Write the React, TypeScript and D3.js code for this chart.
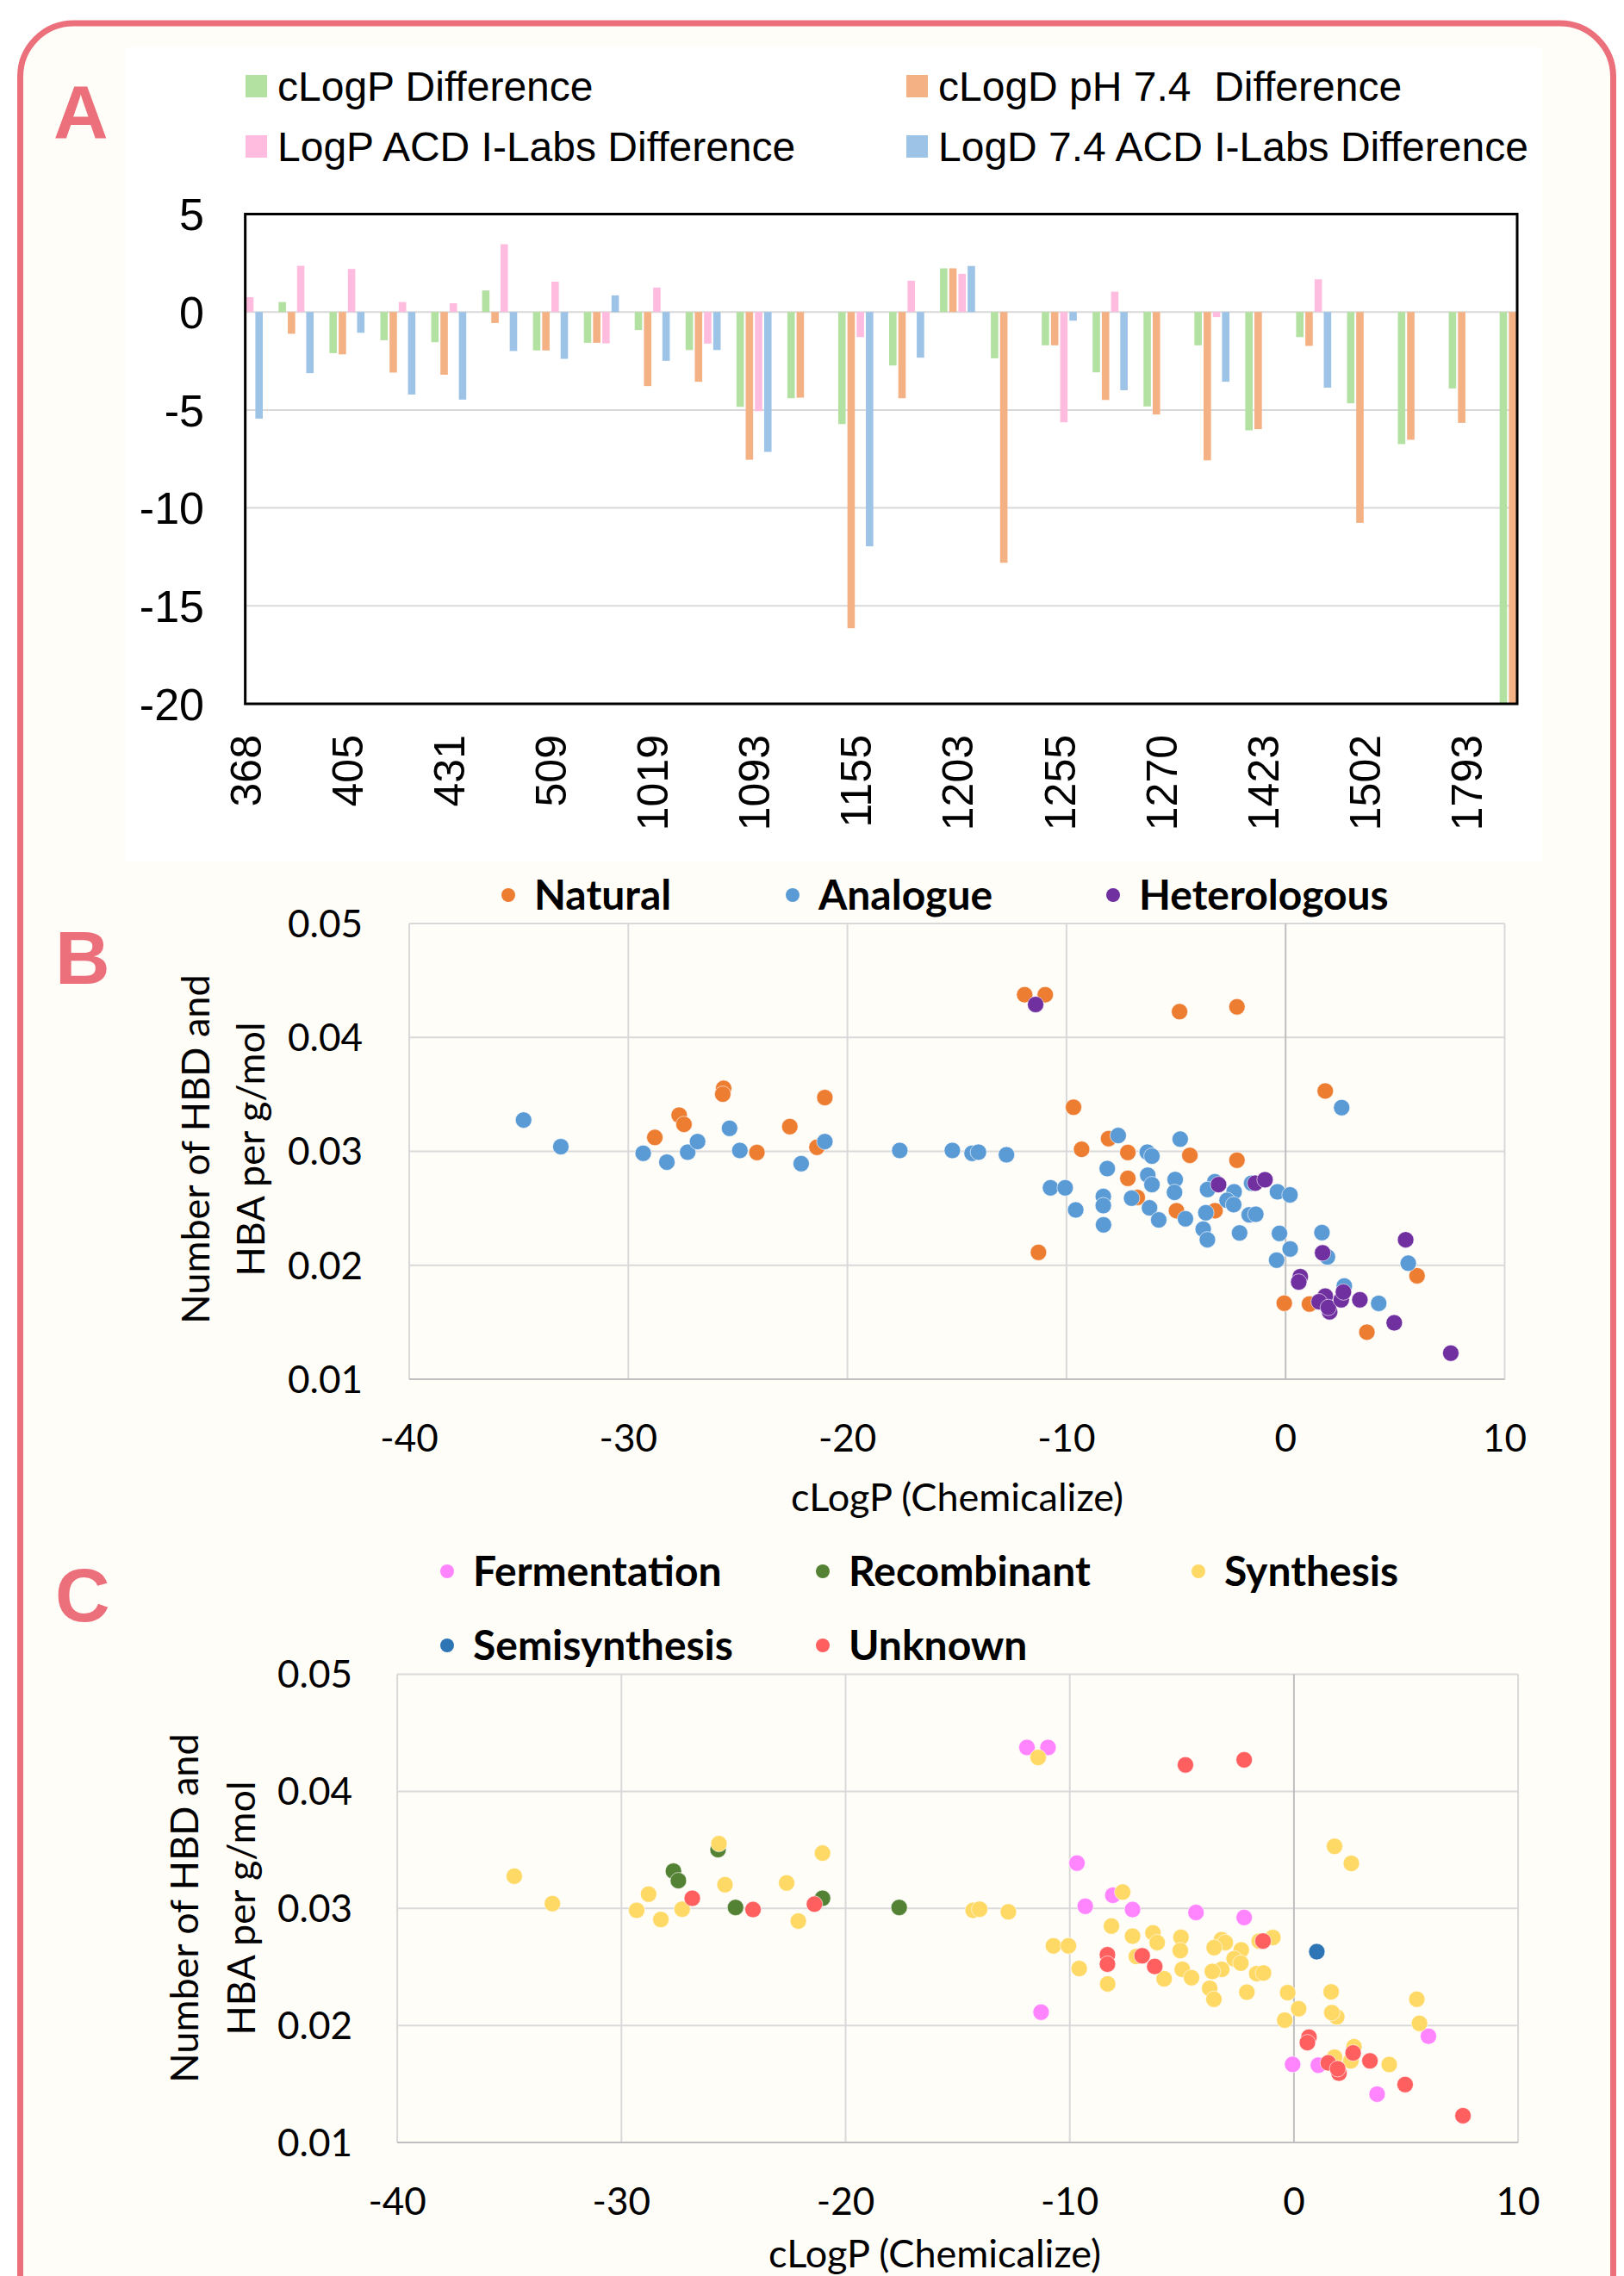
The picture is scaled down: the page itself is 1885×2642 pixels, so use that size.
import React, { useEffect, useRef } from "react";
import * as d3 from "d3";

const W = 1885;
const H = 2642;

// ---------- Panel A data ----------
const categoryTickLabels = ["368", "405", "431", "509", "1019", "1093", "1155", "1203", "1255", "1270", "1423", "1502", "1793"];
const categoryCount = 26;
const cLogPDiff = [-2.5, 0.51, -2.1, -1.44, -1.54, 1.1, -1.96, -1.57, -0.92, -1.94, -4.84, -4.4, -5.72, -2.73, 2.23, -2.36, -1.7, -3.08, -4.82, -1.7, -6.04, -1.28, -4.66, -6.74, -3.9, -21];
const cLogDDiff = [-3.42, -1.11, -2.16, -3.09, -3.2, -0.56, -1.96, -1.57, -3.78, -3.56, -7.54, -4.37, -16.14, -4.4, 2.23, -12.8, -1.7, -4.49, -5.23, -7.57, -5.98, -1.73, -10.76, -6.52, -5.66, -21];
const logPACDDiff = [0.76, 2.36, 2.2, 0.51, 0.45, 3.46, 1.55, -1.6, 1.25, -1.61, -5.06, null, -1.28, 1.6, 1.95, null, -5.63, 1.04, null, -0.26, null, 1.67, null, null, null, null];
const logDACDDiff = [-5.44, -3.12, -1.06, -4.21, -4.47, -1.99, -2.39, 0.85, -2.49, -1.94, -7.14, null, -11.96, -2.33, 2.35, null, -0.44, -3.99, null, -3.56, null, -3.86, null, null, null, null];
const seriesNamesA = ["cLogP Difference", "cLogD pH 7.4  Difference", "LogP ACD I-Labs Difference", "LogD 7.4 ACD I-Labs Difference"];
const seriesColorsA = ["#B3E1A1", "#F4B183", "#FFBCDF", "#9DC3E6"];
const yTicksA = [5, 0, -5, -10, -15, -20];

// ---------- Panels B / C data (shared compounds) ----------
const cLogP = [
  -34.78, -33.08, -29.32, -28.79, -28.24, -27.68, -27.46, -27.29, -26.84, -25.65,
  -25.69, -25.38, -24.91, -24.13, -22.63, -22.11, -21.39, -21.03, -21.03, -17.61,
  -15.21, -14.31, -14.02, -12.74, -11.91, -10.97, -11.41, -11.28, -10.73, -10.06,
  -9.68, -9.58, -9.31, -8.32, -8.32, -8.31, -8.14, -8.08, -7.64, -7.2,
  -7.2, -6.77, -7.03, -6.31, -6.1, -6.29, -6.1, -6.21, -5.79, -4.81,
  -4.37, -5.04, -5.07, -4.98, -4.57, -2.22, -4.84, -2.22, -3.23, -3.06,
  -3.56, -3.22, -3.64, -3.76, -3.57, -2.35, -2.67, -2.37, -2.1, -1.66,
  -1.36, -1.38, -0.94, -1.55, -0.37, 0.2, -0.28, 0.21, -0.41, -0.06,
  1.81, 2.56, 0.67, 0.6, 1.66, 1.91, 1.69, 1.09, 1.81, 1.53,
  2.01, 1.95, 2.54, 2.64, 2.68, 3.39, 4.25, 3.71, 4.96, 5.48,
  5.6, 6.0, 7.54, 1.02
];
const hbdHbaPerMass = [
  0.03275, 0.03041, 0.02983, 0.03122, 0.02905, 0.03318, 0.03237, 0.02993, 0.03086, 0.03553,
  0.03502, 0.03202, 0.03008, 0.0299, 0.03217, 0.02892, 0.03036, 0.03472, 0.03086, 0.03008,
  0.03008, 0.02983, 0.02993, 0.0297, 0.04375, 0.04375, 0.04289, 0.02113, 0.0268, 0.0268,
  0.03387, 0.02486, 0.03018, 0.02604, 0.02524, 0.02355, 0.02849, 0.03112, 0.03139, 0.0299,
  0.02763, 0.02595, 0.02589, 0.02993, 0.02958, 0.02791, 0.02708, 0.02504, 0.02398, 0.03107,
  0.02965, 0.02753, 0.0264, 0.02479, 0.02408, 0.04269, 0.04226, 0.02922, 0.02733, 0.02708,
  0.02665, 0.02479, 0.02461, 0.02317, 0.02224, 0.02645, 0.0257, 0.02532, 0.02284, 0.02443,
  0.02448, 0.02721, 0.02751, 0.0272, 0.02645, 0.02618, 0.0228, 0.02143, 0.02045, 0.01667,
  0.0353, 0.03384, 0.019, 0.01853, 0.02287, 0.02073, 0.02109, 0.0166, 0.01729, 0.0168,
  0.01592, 0.0163, 0.01697, 0.01765, 0.01818, 0.01697, 0.01666, 0.01413, 0.01495, 0.02224,
  0.02018, 0.01908, 0.01229, 0.0263
];
// origin for panel B: N = Natural, A = Analogue, H = Heterologous, "" = not shown
const originCode = [
  "A", "A", "A", "N", "A", "N", "N", "A", "A", "N",
  "N", "A", "A", "N", "N", "A", "N", "N", "A", "A",
  "A", "A", "A", "A", "N", "N", "H", "N", "A", "A",
  "N", "A", "N", "A", "A", "A", "A", "N", "A", "N",
  "N", "N", "A", "A", "A", "A", "A", "A", "A", "A",
  "N", "A", "A", "N", "A", "N", "N", "N", "A", "H",
  "A", "N", "A", "A", "A", "A", "A", "A", "A", "A",
  "A", "H", "H", "A", "A", "A", "A", "A", "A", "N",
  "N", "A", "H", "H", "A", "A", "H", "N", "H", "H",
  "H", "H", "H", "H", "A", "H", "A", "N", "H", "H",
  "A", "N", "H", ""
];
// source for panel C: F Fermentation, R Recombinant, S Synthesis, M Semisynthesis, U Unknown, "" = not shown
const sourceCode = [
  "S", "S", "S", "S", "S", "R", "R", "S", "U", "S",
  "R", "S", "R", "U", "S", "S", "U", "S", "R", "R",
  "", "S", "S", "S", "F", "F", "S", "F", "S", "S",
  "F", "S", "F", "U", "U", "S", "S", "F", "S", "F",
  "S", "U", "S", "", "", "S", "S", "U", "S", "",
  "F", "S", "S", "S", "S", "U", "U", "F", "S", "S",
  "S", "S", "S", "S", "S", "S", "S", "S", "S", "S",
  "S", "U", "S", "S", "", "", "S", "S", "S", "F",
  "S", "S", "U", "U", "S", "S", "S", "F", "S", "U",
  "U", "U", "S", "U", "S", "U", "S", "F", "U", "S",
  "S", "F", "U", "M"
];
const originGroups = [
  { code: "N", name: "Natural", color: "#ED7D31" },
  { code: "A", name: "Analogue", color: "#5B9BD5" },
  { code: "H", name: "Heterologous", color: "#7030A0" },
];
const sourceGroups = [
  { code: "F", name: "Fermentation", color: "#FF85FF" },
  { code: "R", name: "Recombinant", color: "#548235" },
  { code: "S", name: "Synthesis", color: "#FFD966" },
  { code: "M", name: "Semisynthesis", color: "#2E75B6" },
  { code: "U", name: "Unknown", color: "#FF5F5F" },
];
const xTicksBC = [-40, -30, -20, -10, 0, 10];
const yTicksBC = [0.01, 0.02, 0.03, 0.04, 0.05];

const RED = "#EB707B";
const CREAM = "#FFFDF8";

export default function App() {
  const ref = useRef<SVGSVGElement | null>(null);

  useEffect(() => {
    const svg = d3.select(ref.current);
    svg.selectAll("*").remove();

    // outer frame
    svg.append("rect").attr("x", 0).attr("y", 0).attr("width", W).attr("height", H).attr("fill", "#FFFFFF");
    svg.append("rect")
      .attr("x", 23.5).attr("y", 27).attr("width", 1849).attr("height", 2700)
      .attr("rx", 62).attr("ry", 62)
      .attr("fill", CREAM).attr("stroke", RED).attr("stroke-width", 7);

    // ---------------- Panel A ----------------
    const gA = svg.append("g");
    gA.append("rect").attr("x", 145).attr("y", 55).attr("width", 1645).attr("height", 945).attr("fill", "#FFFFFF");

    const left = 284.65, right = 1761, top = 248.5, bottom = 817;
    const xA = d3.scaleLinear().domain([0, categoryCount - 1]).range([left, right]);
    const yA = d3.scaleLinear().domain([-20, 5]).range([bottom, top]);

    gA.append("defs").append("clipPath").attr("id", "clipA")
      .append("rect").attr("x", left).attr("y", top).attr("width", right - left).attr("height", bottom - top);

    // gridlines
    gA.selectAll("line.gridA").data([0, -5, -10, -15]).enter().append("line")
      .attr("x1", left).attr("x2", right)
      .attr("y1", (d) => yA(d)).attr("y2", (d) => yA(d))
      .attr("stroke", "#D9D9D9").attr("stroke-width", 2);

    const series = [cLogPDiff, cLogDDiff, logPACDDiff, logDACDDiff];
    const pitch = 10.7;
    const barW = 8.6;
    const barsG = gA.append("g").attr("clip-path", "url(#clipA)");
    series.forEach((vals, s) => {
      const off = (s - 1.5) * pitch;
      barsG.selectAll(`rect.s${s}`).data(vals.map((v, i) => ({ v, i })).filter((d) => d.v !== null)).enter()
        .append("rect")
        .attr("x", (d) => xA(d.i) + off - barW / 2)
        .attr("width", barW)
        .attr("y", (d) => Math.min(yA(d.v as number), yA(0)))
        .attr("height", (d) => Math.abs(yA(d.v as number) - yA(0)))
        .attr("fill", seriesColorsA[s]);
    });

    gA.append("rect").attr("x", left).attr("y", top).attr("width", right - left).attr("height", bottom - top)
      .attr("fill", "none").attr("stroke", "#000").attr("stroke-width", 3);

    // y tick labels
    gA.selectAll("text.yA").data(yTicksA).enter().append("text")
      .attr("x", 237).attr("y", (d) => yA(d)).attr("dy", "0.36em")
      .attr("text-anchor", "end")
      .attr("font-family", "'Liberation Sans', Arial, sans-serif").attr("font-size", 52)
      .text((d) => String(d));

    // x tick labels (every other category)
    gA.selectAll("text.xA").data(categoryTickLabels).enter().append("text")
      .attr("transform", (d, i) => `translate(${xA(i * 2)},853) rotate(-90)`)
      .attr("dy", "0.36em")
      .attr("text-anchor", "end")
      .attr("font-family", "'Liberation Sans', Arial, sans-serif").attr("font-size", 50)
      .text((d) => d);

    // legend
    const legA = [
      { x: 285, y: 100 }, { x: 1052, y: 100 }, { x: 285, y: 170 }, { x: 1052, y: 170 },
    ];
    seriesNamesA.forEach((name, s) => {
      gA.append("rect").attr("x", legA[s].x).attr("y", legA[s].y - 13).attr("width", 25).attr("height", 26)
        .attr("fill", seriesColorsA[s]);
      gA.append("text").attr("x", legA[s].x + 37).attr("y", legA[s].y).attr("dy", "0.36em")
        .attr("font-family", "'Liberation Sans', Arial, sans-serif").attr("font-size", 48)
        .attr("xml:space", "preserve")
        .style("white-space", "pre")
        .text(name);
    });

    // panel letters
    const letter = (t: string, x: number, y: number) =>
      svg.append("text").attr("x", x).attr("y", y)
        .attr("font-family", "'Liberation Sans', Arial, sans-serif").attr("font-weight", "bold")
        .attr("font-size", 88).attr("fill", RED).text(t);
    letter("A", 62, 160);
    letter("B", 64, 1142);
    letter("C", 64, 1882);

    // ---------------- Scatter panels ----------------
    type ScatterOpts = {
      x0: number; x1: number; y0: number; y1: number;
      codes: string[];
      groups: { code: string; name: string; color: string }[];
      legend: { x: number; y: number }[];
      yLabelX: number; xLabelY: number;
      xTitleX: number; xTitleY: number;
      yTitleX: [number, number]; yTitleY: number;
    };
    const font = "Lato, 'Open Sans', sans-serif";

    const drawScatter = (o: ScatterOpts) => {
      const g = svg.append("g");
      const x = d3.scaleLinear().domain([-40, 10]).range([o.x0, o.x1]);
      const y = d3.scaleLinear().domain([0.01, 0.05]).range([o.y1, o.y0]);
      // gridlines
      g.selectAll("line.gy").data(yTicksBC).enter().append("line")
        .attr("x1", o.x0).attr("x2", o.x1).attr("y1", (d) => y(d)).attr("y2", (d) => y(d))
        .attr("stroke", "#D9D9D9").attr("stroke-width", 2);
      g.selectAll("line.gx").data(xTicksBC).enter().append("line")
        .attr("y1", o.y0).attr("y2", o.y1).attr("x1", (d) => x(d)).attr("x2", (d) => x(d))
        .attr("stroke", (d) => (d === 0 ? "#BFBFBF" : "#D9D9D9")).attr("stroke-width", 2);
      g.append("line").attr("x1", o.x0).attr("x2", o.x1).attr("y1", o.y1).attr("y2", o.y1)
        .attr("stroke", "#BFBFBF").attr("stroke-width", 2);

      // points, series by series
      o.groups.forEach((grp) => {
        const idx = o.codes.map((c, i) => (c === grp.code ? i : -1)).filter((i) => i >= 0);
        g.selectAll(`circle.p${grp.code}`).data(idx).enter().append("circle")
          .attr("cx", (i) => x(cLogP[i])).attr("cy", (i) => y(hbdHbaPerMass[i]))
          .attr("r", 9.5).attr("fill", grp.color)
          .attr("stroke", "#FFFFFF").attr("stroke-opacity", 0.6).attr("stroke-width", 1);
      });

      // tick labels
      g.selectAll("text.ty").data(yTicksBC).enter().append("text")
        .attr("x", o.yLabelX).attr("y", (d) => y(d)).attr("dy", "0.36em").attr("text-anchor", "end")
        .attr("font-family", font).attr("font-size", 44).text((d) => d3.format(".2f")(d));
      g.selectAll("text.tx").data(xTicksBC).enter().append("text")
        .attr("x", (d) => x(d)).attr("y", o.xLabelY).attr("dy", "0.36em").attr("text-anchor", "middle")
        .attr("font-family", font).attr("font-size", 44).text((d) => String(d));

      // titles
      g.append("text").attr("x", o.xTitleX).attr("y", o.xTitleY).attr("dy", "0.36em").attr("text-anchor", "middle")
        .attr("font-family", font).attr("font-size", 45).text("cLogP (Chemicalize)");
      ["Number of HBD and", "HBA per g/mol"].forEach((t, k) => {
        g.append("text").attr("transform", `translate(${o.yTitleX[k]},${o.yTitleY}) rotate(-90)`)
          .attr("dy", "0.36em").attr("text-anchor", "middle")
          .attr("font-family", font).attr("font-size", 45).text(t);
      });

      // legend
      o.groups.forEach((grp, k) => {
        const p = o.legend[k];
        g.append("circle").attr("cx", p.x).attr("cy", p.y).attr("r", 8).attr("fill", grp.color);
        g.append("text").attr("x", p.x + 30).attr("y", p.y).attr("dy", "0.36em")
          .attr("font-family", font).attr("font-weight", "bold").attr("font-size", 48).text(grp.name);
      });
    };

    drawScatter({
      x0: 475, x1: 1746.5, y0: 1072, y1: 1601,
      codes: originCode, groups: originGroups,
      legend: [{ x: 590, y: 1039 }, { x: 920, y: 1039 }, { x: 1292, y: 1039 }],
      yLabelX: 421, xLabelY: 1669,
      xTitleX: 1111, xTitleY: 1738,
      yTitleX: [227, 291], yTitleY: 1334,
    });
    drawScatter({
      x0: 461.1, x1: 1762.1, y0: 1943.5, y1: 2487,
      codes: sourceCode, groups: sourceGroups,
      legend: [{ x: 519, y: 1824 }, { x: 955, y: 1824 }, { x: 1391, y: 1824 }, { x: 519, y: 1910 }, { x: 955, y: 1910 }],
      yLabelX: 409, xLabelY: 2555,
      xTitleX: 1085, xTitleY: 2616,
      yTitleX: [214, 280], yTitleY: 2215,
    });
  }, []);

  return (
    <svg ref={ref} width={W} height={H} viewBox={`0 0 ${W} ${H}`}
      style={{ position: "absolute", left: 0, top: 0, display: "block" }} />
  );
}
